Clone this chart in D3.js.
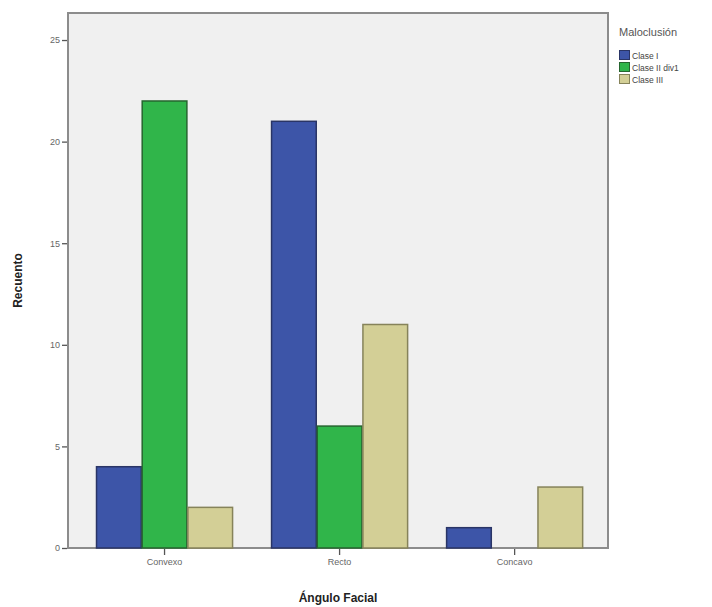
<!DOCTYPE html>
<html>
<head>
<meta charset="utf-8">
<script src="https://cdn.jsdelivr.net/npm/d3@7"></script>
<style>
  html, body { margin: 0; padding: 0; background: #fff; }
  svg { display: block; }
  text { font-family: "Liberation Sans", Arial, sans-serif; }
</style>
</head>
<body>
<svg id="chart" width="712" height="607"></svg>
<script>
const categories = ["Convexo", "Recto", "Concavo"];
const seriesNames = ["Clase I", "Clase II div1", "Clase III"];
const claseI = [4, 21, 1];
const claseIIdiv1 = [22, 6, 0];
const claseIII = [2, 11, 3];
const yTicks = [0, 5, 10, 15, 20, 25];
const colors = ["#3d55a8", "#30b54a", "#d3cf96"];
const strokes = ["#2a3566", "#26652f", "#86835a"];

const seriesValues = [claseI, claseIIdiv1, claseIII];
const data = categories.map((c, i) => ({
  cat: c,
  vals: seriesNames.map((s, j) => ({ s, j, v: seriesValues[j][i] }))
}));

const svg = d3.select("#chart");
const L = 68, R = 608, T = 13, B = 548;

const x = d3.scaleBand().domain(categories).range([L, R])
  .paddingInner(0.217).paddingOuter(0.151).align(0.53);
const xs = d3.scaleBand().domain(seriesNames).range([0, x.bandwidth()]);
const y = d3.scaleLinear().domain([0, 26.33]).range([B, T]);

// plot background
svg.append("rect").attr("x", L).attr("y", T).attr("width", R - L).attr("height", B - T)
  .attr("fill", "#f0f0f0").attr("stroke", "#8c8c8c").attr("stroke-width", 2);

// bars
const g = svg.append("g");
data.forEach(d => {
  d.vals.forEach(o => {
    if (o.v <= 0) return;
    g.append("rect")
      .attr("x", x(d.cat) + xs(o.s) + 0.5)
      .attr("y", y(o.v))
      .attr("width", xs.bandwidth() - 1)
      .attr("height", y(0) - y(o.v))
      .attr("fill", colors[o.j])
      .attr("stroke", strokes[o.j])
      .attr("stroke-width", 1.5);
  });
});

// y axis
const yAxis = d3.axisLeft(y).tickValues(yTicks).tickSize(5).tickPadding(2).tickFormat(d3.format("d"));
const ya = svg.append("g").attr("transform", `translate(${L - 1},0)`).call(yAxis);
ya.select(".domain").remove();
ya.selectAll(".tick line").attr("stroke", "#555").attr("stroke-width", 1.3);
ya.selectAll(".tick text").attr("fill", "#666").style("font-size", "9px");

// x axis
const xAxis = d3.axisBottom(x).tickSize(6).tickPadding(4);
const xa = svg.append("g").attr("transform", `translate(0,${B + 1})`).call(xAxis);
xa.select(".domain").remove();
xa.selectAll(".tick line").attr("stroke", "#555").attr("stroke-width", 1.3);
xa.selectAll(".tick text").attr("fill", "#666").style("font-size", "9px");

// axis titles
svg.append("text").attr("x", (L + R) / 2).attr("y", 602).attr("text-anchor", "middle")
  .style("font-size", "12px").style("font-weight", "bold").attr("fill", "#222").text("Ángulo Facial");
svg.append("text").attr("transform", `translate(22,${(T + B) / 2}) rotate(-90)`).attr("text-anchor", "middle")
  .style("font-size", "12px").style("font-weight", "bold").attr("fill", "#222").text("Recuento");

// legend
const lg = svg.append("g");
lg.append("text").attr("x", 619).attr("y", 36).style("font-size", "11px").attr("fill", "#555").text("Maloclusión");
seriesNames.forEach((s, j) => {
  const yy = 50 + j * 12;
  lg.append("rect").attr("x", 619.5).attr("y", yy + 0.5).attr("width", 10).attr("height", 9)
    .attr("fill", colors[j]).attr("stroke", strokes[j]).attr("stroke-width", 1);
  lg.append("text").attr("x", 632).attr("y", yy + 8.5).style("font-size", "8.5px").attr("fill", "#444").text(s);
});
</script>
</body>
</html>
